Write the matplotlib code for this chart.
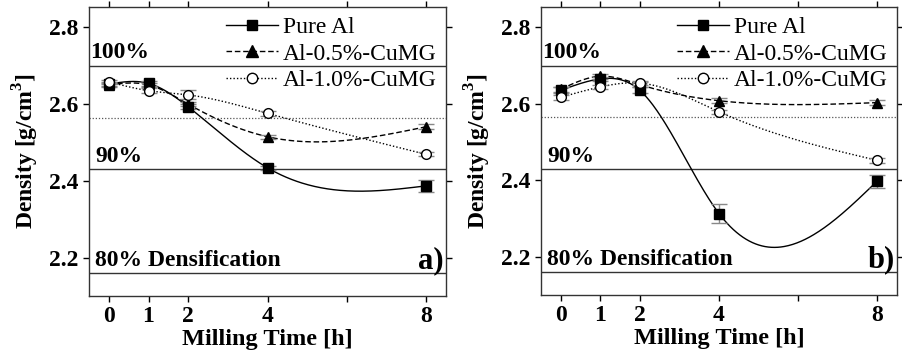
import matplotlib
matplotlib.use("Agg")
import matplotlib.pyplot as plt
import numpy as np

plt.rcParams['font.family'] = ['Liberation Serif', 'DejaVu Serif']
plt.rcParams['mathtext.fontset'] = 'custom'
plt.rcParams['mathtext.rm'] = 'Liberation Serif'
plt.rcParams['mathtext.bf'] = 'Liberation Serif:bold'

# milling time [h]
time_h = [0, 1, 2, 4, 8]

# panel a)
a_pure = [2.652, 2.654, 2.593, 2.434, 2.387]
a_pure_err = [0.006, 0.006, 0.006, 0.006, 0.015]
a_05 = [2.650, 2.650, 2.600, 2.515, 2.541]
a_05_err = [0.005, 0.006, 0.006, 0.005, 0.006]
a_10 = [2.658, 2.635, 2.624, 2.576, 2.469]
a_10_err = [0.005, 0.006, 0.012, 0.006, 0.005]

# panel b)
b_pure = [2.635, 2.665, 2.635, 2.313, 2.398]
b_pure_err = [0.008, 0.006, 0.008, 0.026, 0.017]
b_05 = [2.638, 2.672, 2.650, 2.608, 2.603]
b_05_err = [0.006, 0.006, 0.006, 0.006, 0.006]
b_10 = [2.617, 2.644, 2.654, 2.579, 2.452]
b_10_err = [0.006, 0.006, 0.006, 0.006, 0.006]

series_names = ['Pure Al', 'Al-0.5%-CuMG', 'Al-1.0%-CuMG']
ref_levels = [2.70, 2.565, 2.43, 2.16]  # 100%, 95%, 90%, 80%


# natural cubic spline through the points (smooth connecting line)
def spline(x, y, n=300):
    x = np.asarray(x, float)
    y = np.asarray(y, float)
    k = len(x)
    h = np.diff(x)
    A = np.zeros((k, k))
    r = np.zeros(k)
    A[0, 0] = 1
    A[-1, -1] = 1
    for i in range(1, k - 1):
        A[i, i - 1] = h[i - 1]
        A[i, i] = 2 * (h[i - 1] + h[i])
        A[i, i + 1] = h[i]
        r[i] = 6 * ((y[i + 1] - y[i]) / h[i] - (y[i] - y[i - 1]) / h[i - 1])
    M = np.linalg.solve(A, r)
    xs = np.linspace(x[0], x[-1], n)
    ys = np.empty_like(xs)
    for j, t in enumerate(xs):
        i = min(np.searchsorted(x, t, side='right') - 1, k - 2)
        dx1 = x[i + 1] - t
        dx0 = t - x[i]
        ys[j] = (M[i] * dx1 ** 3 + M[i + 1] * dx0 ** 3) / (6 * h[i]) \
            + (y[i] / h[i] - M[i] * h[i] / 6) * dx1 \
            + (y[i + 1] / h[i] - M[i + 1] * h[i] / 6) * dx0
    return xs, ys


styles = [
    dict(ls='-', marker='s', mfc='black', mec='black', ms=6.5),
    dict(ls=(0, (4, 2)), marker='^', mfc='black', mec='black', ms=7.5),
    dict(ls=(0, (1, 1.5)), marker='o', mfc='white', mec='black', ms=7),
]


def draw_panel(ax, data, errs, tag):
    for lev in ref_levels:
        if lev == 2.565:
            ax.axhline(lev, color='#555555', lw=0.9, ls=(0, (1, 1.5)), zorder=1)
        else:
            ax.axhline(lev, color='#333333', lw=1.0, zorder=1)
    handles = []
    for y, e, st, name in zip(data, errs, styles, series_names):
        xs, ys = spline(time_h, y)
        ax.plot(xs, ys, color='black', lw=1.0, ls=st['ls'], zorder=2)
        ax.errorbar(time_h, y, yerr=e, fmt='none', ecolor='#888888',
                    elinewidth=1.0, capsize=6, capthick=1.0, zorder=3)
        ax.plot(time_h, y, ls='none', marker=st['marker'], mfc=st['mfc'],
                mec=st['mec'], ms=st['ms'], mew=1.0, zorder=4)
        h, = ax.plot([], [], color='black', lw=1.0, ls=st['ls'],
                     marker=st['marker'], mfc=st['mfc'], mec=st['mec'], ms=st['ms'] + 0.5)
        handles.append(h)
    ax.legend(handles, series_names, loc='upper right', frameon=False,
              fontsize=17, handlelength=2.2, handletextpad=0.2,
              labelspacing=0.22, borderaxespad=0.0, bbox_to_anchor=(1.0, 1.0))

    ax.text(-0.48, 2.735, '100%', fontsize=17, fontweight='bold', va='center')
    ax.text(-0.35, 2.463, '90%', fontsize=17, fontweight='bold', va='center')
    ax.text(-0.35, 2.192, '80% Densification', fontsize=17, fontweight='bold', va='center')
    ax.text(8.45, 2.192, tag, fontsize=22, fontweight='bold', va='center', ha='right')

    ax.set_xlim(-0.5, 8.5)
    ax.set_ylim(2.1, 2.853)
    ax.set_xticks([0, 1, 2, 4, 6, 8])
    ax.set_xticklabels(['0', '1', '2', '4', '', '8'])
    ax.set_yticks([2.2, 2.4, 2.6, 2.8])
    ax.tick_params(axis='both', labelsize=17, width=1, length=4,
                   direction='out', right=True, top=True)
    for lab in ax.get_xticklabels() + ax.get_yticklabels():
        lab.set_fontweight('bold')
    ax.set_xlabel('Milling Time [h]', fontsize=17.5, fontweight='bold', labelpad=1)
    ax.set_ylabel(r'Density [g/cm$^{\mathbf{3}}$]', fontsize=17, fontweight='bold', labelpad=6)
    for sp in ax.spines.values():
        sp.set_color('#333333')
        sp.set_linewidth(1.0)


fig = plt.figure(figsize=(9.02, 3.55), dpi=100)
ax1 = fig.add_axes([89 / 902, 59 / 355, 357 / 902, 289 / 355])
ax2 = fig.add_axes([541 / 902, 60 / 355, 356 / 902, 288 / 355])

draw_panel(ax1, [a_pure, a_05, a_10], [a_pure_err, a_05_err, a_10_err], 'a)')
draw_panel(ax2, [b_pure, b_05, b_10], [b_pure_err, b_05_err, b_10_err], 'b)')

fig.savefig('out.png', dpi=100)
